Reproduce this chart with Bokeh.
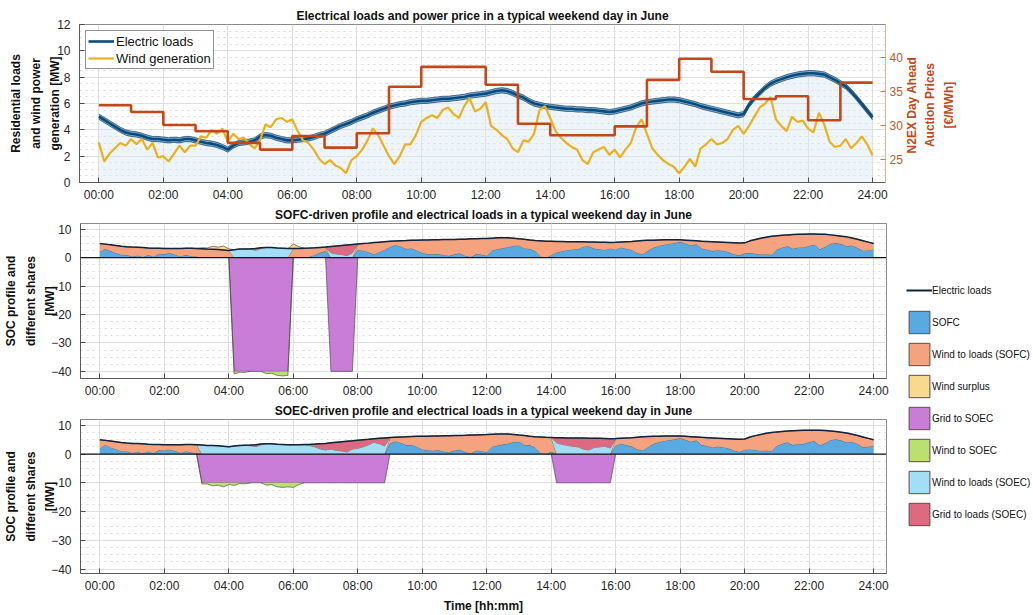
import numpy as np
from bokeh.plotting import figure
from bokeh.models import Range1d, LinearAxis, Legend, LegendItem, Span, FixedTicker, Label
from bokeh.layouts import column, row
from bokeh.embed import file_html
from bokeh.resources import INLINE

FONT = "Liberation Sans"

# ---------------------------------------------------------------- data
# 10-minute samples over one day (hours)
hours = np.arange(145) / 6.0

# residential electric loads [MW]
loads = [
    5.00, 4.75, 4.50, 4.25, 4.00, 3.80,   # 00
    3.70, 3.65, 3.55, 3.40, 3.30, 3.30,   # 01
    3.25, 3.20, 3.25, 3.20, 3.30, 3.30,   # 02
    3.20, 3.10, 3.00, 2.95, 2.85, 2.70,   # 03
    2.50, 2.80, 3.00, 3.05, 3.10, 3.20,   # 04
    3.50, 3.60, 3.55, 3.40, 3.30, 3.20,   # 05
    3.20, 3.25, 3.30, 3.35, 3.45, 3.60,   # 06
    3.70, 3.90, 4.10, 4.30, 4.45, 4.60,   # 07
    4.80, 4.95, 5.10, 5.30, 5.45, 5.60,   # 08
    5.75, 5.85, 5.95, 6.00, 6.10, 6.15,   # 09
    6.20, 6.20, 6.25, 6.30, 6.35, 6.35,   # 10
    6.40, 6.45, 6.50, 6.60, 6.65, 6.70,   # 11
    6.75, 6.85, 6.95, 7.00, 6.95, 6.80,   # 12
    6.60, 6.45, 6.20, 6.00, 5.90, 5.80,   # 13
    5.75, 5.70, 5.65, 5.60, 5.60, 5.55,   # 14
    5.55, 5.50, 5.50, 5.45, 5.40, 5.35,   # 15
    5.40, 5.50, 5.60, 5.70, 5.85, 6.00,   # 16
    6.10, 6.15, 6.20, 6.25, 6.30, 6.30,   # 17
    6.25, 6.15, 6.05, 5.95, 5.80, 5.70,   # 18
    5.60, 5.50, 5.40, 5.30, 5.20, 5.10,   # 19
    5.20, 5.90, 6.40, 6.80, 7.20, 7.50,   # 20
    7.70, 7.85, 8.00, 8.10, 8.20, 8.25,   # 21
    8.30, 8.30, 8.25, 8.20, 8.00, 7.80,   # 22
    7.55, 7.30, 6.90, 6.45, 5.95, 5.45,   # 23
    4.95,                                 # 24
]

# wind generation [MW]
wind = [
    3.05, 1.60, 2.20, 2.60, 3.00, 2.80,   # 00
    3.30, 2.90, 3.30, 2.50, 3.00, 1.90,   # 01
    2.00, 1.60, 2.20, 2.80, 2.30, 2.80,   # 02
    2.80, 3.50, 3.40, 4.00, 3.70, 4.10,   # 03
    3.10, 3.70, 3.30, 3.40, 2.90, 2.60,   # 04
    3.20, 4.40, 4.20, 4.80, 4.90, 4.60,   # 05
    4.80, 3.90, 3.20, 3.00, 2.50, 1.80,   # 06
    1.40, 1.70, 1.30, 1.10, 0.70, 1.70,   # 07
    2.00, 2.50, 3.20, 4.10, 3.60, 2.80,   # 08
    2.00, 1.40, 2.00, 2.90, 2.90, 3.60,   # 09
    4.60, 4.90, 5.10, 4.90, 5.50, 5.70,   # 10
    5.20, 4.90, 5.80, 6.40, 5.40, 5.60,   # 11
    6.10, 4.30, 4.00, 3.60, 3.30, 2.60,   # 12
    2.30, 3.20, 3.10, 3.70, 5.50, 5.80,   # 13
    4.90, 3.90, 3.40, 3.00, 2.70, 2.50,   # 14
    1.70, 1.40, 2.30, 2.50, 2.70, 2.10,   # 15
    2.50, 1.90, 2.50, 3.00, 4.20, 4.80,   # 16
    3.70, 2.60, 2.10, 1.70, 1.40, 1.20,   # 17
    0.70, 1.20, 1.80, 1.20, 2.60, 2.90,   # 18
    3.30, 2.90, 3.00, 3.30, 4.00, 4.30,   # 19
    3.70, 4.30, 5.00, 5.70, 6.00, 6.50,   # 20
    4.80, 4.30, 3.90, 5.00, 4.60, 4.70,   # 21
    4.10, 3.80, 5.30, 4.40, 3.10, 2.70,   # 22
    2.80, 3.30, 2.60, 3.00, 3.50, 2.90,   # 23
    2.05,                                 # 24
]

# N2EX day-ahead auction price, hourly blocks [EUR/MWh]
price_hours = list(range(24))
price = [33.0, 32.0, 30.1, 29.2, 27.5, 26.5, 28.5, 26.8, 28.9, 35.7, 38.6, 38.6,
         36.0, 30.3, 28.6, 28.6, 29.9, 36.7, 39.8, 37.9, 33.9, 34.3, 30.8, 36.3]

# electrolyser operating windows: (start hour, end hour, grid power to SOEC [MW])
soec_windows_sofc_case = [(4, 6, 40), (7, 8, 40)]
soec_windows_soec_case = [(3, 9, 10), (14, 16, 10)]

tick_hours = list(range(0, 25, 2))
tick_labels = ["00:00", "02:00", "04:00", "06:00", "08:00", "10:00", "12:00",
               "14:00", "16:00", "18:00", "20:00", "22:00", "24:00"]

share_names = ["SOFC", "Wind to loads (SOFC)", "Wind surplus", "Grid to SOEC",
               "Wind to SOEC", "Wind to loads (SOEC)", "Grid to loads (SOEC)"]
share_colors = {
    "SOFC": "#5aaae2",
    "Wind to loads (SOFC)": "#f4a37e",
    "Wind surplus": "#f9d98d",
    "Grid to SOEC": "#c97cd8",
    "Wind to SOEC": "#b9e070",
    "Wind to loads (SOEC)": "#a3ddf6",
    "Grid to loads (SOEC)": "#dd6a80",
}

LOAD_BLUE = "#0d4a7c"
WIND_YELLOW = "#ecb01f"
PRICE_RED = "#c2481a"
TEXT = "#262626"
X_RANGE = (-0.6, 24.4)
PRICE_RANGE = (21.7, 44.8)
LABELS = {h: s for h, s in zip(tick_hours, tick_labels)}


def style(p, yticks, yminor, ylabel_standoff):
    p.xaxis.ticker = FixedTicker(ticks=tick_hours)
    p.xaxis.major_label_overrides = LABELS
    p.yaxis.ticker = FixedTicker(ticks=yticks, minor_ticks=yminor)
    for ax in p.axis:
        ax.major_label_text_font = FONT
        ax.major_label_text_font_size = "12px"
        ax.major_label_text_color = TEXT
        ax.major_tick_in = 5
        ax.major_tick_out = 0
        ax.minor_tick_line_color = None
        ax.axis_line_color = "#5a5a5a"
        ax.major_tick_line_color = "#4a4a4a"
        ax.major_label_standoff = 5
        ax.axis_label_text_font = FONT
        ax.axis_label_text_font_size = "12px"
        ax.axis_label_text_font_style = "bold"
        ax.axis_label_text_color = "#111111"
        ax.axis_label_text_line_height = 1.4
        ax.axis_label_standoff = 0
    p.left[0].axis_label_standoff = ylabel_standoff
    p.xgrid.grid_line_color = "#dedede"
    p.ygrid.grid_line_color = "#dedede"
    p.ygrid.minor_grid_line_color = "#d9d9d9"
    p.ygrid.minor_grid_line_dash = "dotted"
    p.outline_line_color = "#8a8a8a"
    p.title.text_font = FONT
    p.title.text_font_size = "12px"
    p.title.text_font_style = "bold"
    p.title.text_color = "#111111"
    p.title.align = "center"
    p.title.standoff = 3


# ---------------------------------------------------------------- panel 1
p1 = figure(width=905, height=204, x_range=Range1d(*X_RANGE), y_range=Range1d(0, 12),
            output_backend="svg", toolbar_location=None,
            min_border_left=79, min_border_right=19, min_border_top=24, min_border_bottom=20,
            title="Electrical loads and power price in a typical weekend day in June")
p1.extra_y_ranges = {"price": Range1d(*PRICE_RANGE)}
L = np.array(loads)
W = np.array(wind)

p1.varea(x=hours, y1=0, y2=L, fill_color="#d8e9f7", fill_alpha=0.45)
p1.varea(x=hours, y1=L - 0.2, y2=L + 0.2, fill_color="#62acdc", fill_alpha=0.9)
p1.line(hours, L + 0.2, line_color="#1f3550", line_width=0.7)
p1.line(hours, L - 0.2, line_color="#1f3550", line_width=0.7)
r_load = p1.line(hours, L, line_color=LOAD_BLUE, line_width=2.6)
r_wind = p1.line(hours, W, line_color=WIND_YELLOW, line_width=2.2)
p1.step(x=price_hours + [24], y=price + [price[-1]], mode="after",
        line_color=PRICE_RED, line_width=2.6, y_range_name="price")

price_axis = LinearAxis(y_range_name="price")
p1.add_layout(price_axis, "right")
style(p1, list(range(0, 13, 2)), [v / 2 for v in range(0, 25)], -8)
price_axis.ticker = FixedTicker(ticks=[25, 30, 35, 40])
price_axis.major_label_text_color = "#b0602e"
price_axis.major_tick_line_color = "#c07a50"
price_axis.major_label_standoff = 4
price_axis.axis_line_color = "#d8b49a"
p1.left[0].axis_label = "Residential loads\nand wind power\ngeneration [MW]"

leg1 = Legend(items=[LegendItem(label="Electric loads", renderers=[r_load]),
                     LegendItem(label="Wind generation", renderers=[r_wind])],
              location="top_left", margin=6, padding=2, spacing=1,
              glyph_width=26, glyph_height=16, label_standoff=2,
              label_text_font=FONT, label_text_font_size="13px", label_text_color="#111111",
              border_line_color="#262626", border_line_width=1, background_fill_alpha=1)
p1.add_layout(leg1)

# title strip for the price axis, reading bottom to top like the left-hand one
pt = figure(width=128, height=204, x_range=Range1d(0, 128), y_range=Range1d(0, 204),
            x_axis_type=None, y_axis_type=None, output_backend="svg", toolbar_location=None,
            min_border=0, outline_line_color=None)
pt.xgrid.visible = False
pt.ygrid.visible = False
pt.add_layout(Label(x=25, y=100, text="N2EX Day Ahead\nAuction Prices\n[\u20ac/MWh]",
                    angle=90, angle_units="deg", text_align="center", text_baseline="middle",
                    text_font=FONT, text_font_size="12px", text_font_style="bold",
                    text_color=PRICE_RED, text_line_height=1.3))


# ---------------------------------------------------------------- shares
def shares(windows):
    on = np.zeros(hours.shape, dtype=bool)
    grid = np.zeros(hours.shape)
    for a, b, pw in windows:
        m = (hours > a + 1e-9) & (hours < b - 1e-9)
        on |= m
        grid[m] = pw
    used = np.minimum(W, L)
    extra = np.maximum(W - L, 0)
    short = L - used
    off = ~on
    pos = [("SOFC", np.where(off, short, 0)),
           ("Wind to loads (SOFC)", np.where(off, used, 0)),
           ("Wind to loads (SOEC)", np.where(on, used, 0)),
           ("Grid to loads (SOEC)", np.where(on, short, 0)),
           ("Wind surplus", np.where(off, extra, 0))]
    neg = [("Grid to SOEC", grid),
           ("Wind to SOEC", np.where(on, extra, 0))]
    return pos, neg


def edge(y, thick):
    t = thick > 1e-9
    keep = t.copy()
    keep[1:] |= t[:-1]
    keep[:-1] |= t[1:]
    return np.where(keep, y, np.nan)


def share_panel(title, windows, height, top_border, bottom_border, y_range, xlabel=None):
    p = figure(width=890, height=height, x_range=Range1d(*X_RANGE), y_range=Range1d(*y_range),
               output_backend="svg", toolbar_location=None,
               min_border_left=79, min_border_right=4,
               min_border_top=top_border, min_border_bottom=bottom_border, title=title)
    pos, neg = shares(windows)
    base = np.zeros(hours.shape)
    for name, v in pos:
        p.varea(x=hours, y1=base, y2=base + v, fill_color=share_colors[name])
        p.line(hours, edge(base + v, v), line_color="#3a3a3a", line_width=0.6)
        base = base + v
    base = np.zeros(hours.shape)
    for name, v in neg:
        p.varea(x=hours, y1=base - v, y2=base, fill_color=share_colors[name])
        p.line(hours, edge(base - v, v), line_color="#3a3a3a", line_width=0.6)
        base = base - v
    p.add_layout(Span(location=0, dimension="width", line_color="#111111", line_width=1.2))
    p.line(hours, L, line_color="#14233a", line_width=1.5)
    style(p, [-40, -30, -20, -10, 0, 10], [v * 2.5 for v in range(-17, 5)], -9)
    p.left[0].axis_label = "SOC profile and\ndifferent shares\n[MW]"
    if xlabel:
        p.below[0].axis_label = xlabel
        p.below[0].axis_label_standoff = 3
    return p


p2 = share_panel("SOFC-driven profile and electrical loads in a typical weekend day in June",
                 soec_windows_sofc_case, 196, 17, 18, (-42.5, 12))
p3 = share_panel("SOEC-driven profile and electrical loads in a typical weekend day in June",
                 soec_windows_soec_case, 215, 18, 37, (-41.5, 12), xlabel="Time [hh:mm]")

# ---------------------------------------------------------------- legend column
lg = figure(width=143, height=411, x_range=Range1d(0, 1), y_range=Range1d(0, 1),
            x_axis_type=None, y_axis_type=None, output_backend="svg", toolbar_location=None,
            min_border=0, outline_line_color=None)
lg.xgrid.visible = False
lg.ygrid.visible = False
# key glyphs sit outside the visible range; only their legend swatches show
items = [LegendItem(label="Electric loads",
                    renderers=[lg.line(x=[5, 6], y=[5, 5], line_color="#14233a", line_width=2)])]
for name in share_names:
    r = lg.quad(left=[5], right=[6], top=[6], bottom=[5], fill_color=share_colors[name],
                line_color="#5a4a4a", line_width=1)
    items.append(LegendItem(label=name, renderers=[r]))
lg.add_layout(Legend(items=items, location=(16, 87), padding=0, spacing=4,
                     glyph_width=26, glyph_height=28, label_standoff=0,
                     label_text_font=FONT, label_text_font_size="10px",
                     label_text_color="#111111", border_line_color=None,
                     background_fill_alpha=0))

layout = column(row(p1, pt), row(column(p2, p3), lg))
open("out.html", "w").write(file_html(layout, INLINE))
